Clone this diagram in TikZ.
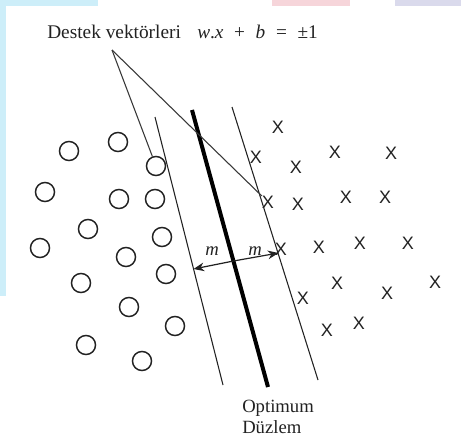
\documentclass[tikz,border=0pt]{standalone}
\usepackage{fontspec}
\setmainfont{Liberation Serif}
\newfontfamily\xfont{Liberation Sans}
\usetikzlibrary{arrows.meta}
\definecolor{bgblue}{HTML}{CDEEF9}
\definecolor{bgpink}{HTML}{F6D5DA}
\definecolor{bglav}{HTML}{DADAEC}
\definecolor{ink}{HTML}{222222}
\begin{document}
\begin{tikzpicture}[x=0.75pt,y=-0.75pt,
  circ/.style={circle, draw=ink, line width=1.1pt, minimum size=14.3pt, inner sep=0pt},
  cross/.style={font=\xfont\fontsize{13.5}{13.5}\selectfont, text=ink, inner sep=0pt},
  txt/.style={font=\fontsize{14.5}{17}\selectfont, text=ink, inner sep=0pt},
  thinline/.style={line width=0.8pt, draw=ink},
  pointer/.style={line width=0.8pt, draw=ink!90},
  thickline/.style={line width=3pt, draw=black},
  marg/.style={line width=0.9pt, draw=ink, -{Stealth[length=8pt,width=6.5pt]}}
]
\useasboundingbox (0,0) rectangle (461,439);
\fill[white] (0,0) rectangle (461,439);
% background artefacts
\fill[bgblue] (0,0) rectangle (98,6);
\fill[bgblue] (0,0) rectangle (6,296);
\fill[bgpink] (272,0) rectangle (350,6);
\fill[bglav] (395,0) rectangle (461,6);

% title
\node[txt, anchor=base west] (lbl) at (47,38) {Destek vektörleri};
\node[txt, anchor=base west] (eq) at (197,38) {\itshape w\upshape.\itshape x\upshape\hspace{0.55em}+\hspace{0.55em}\itshape b\upshape\hspace{0.55em}=\hspace{0.55em}±1};
\coordinate (apex) at (112,50);

% circles
\foreach \n/\x/\y in {1/69/151, 2/118/142, 3/156/166, 4/45/192, 5/119/199, 6/155/199,
  7/88/229, 8/162/237, 9/40/248, 10/126/257, 11/166/274, 12/81/283, 13/129/307,
  14/175/326, 15/86/345, 16/142/361}
  \node[circ] (c\n) at (\x,\y) {};

% crosses
\foreach \n/\x/\y in {1/278/127, 2/256/157, 3/335/152, 4/391/153, 5/296/167, 6/268/202,
  7/298/204, 8/346/197, 9/385/197, 10/281/249, 11/319/247, 12/360/243, 13/408/243,
  14/337/283, 15/435/282, 16/303/298, 17/387/293, 18/327/330, 19/359/323}
  \node[cross] (x\n) at (\x,\y) {X};

% hyperplanes
\coordinate (lt) at (155,117);
\coordinate (lb) at (223,385);
\coordinate (mt) at (192,110);
\coordinate (mb) at (268,387);
\coordinate (rt) at (232,107);
\coordinate (rb) at (318,380);
\draw[thinline] (lt) -- (lb);
\draw[thickline] (mt) -- (mb);
\draw[thinline] (rt) -- (rb);

% pointers
\draw[pointer] (apex) -- (c3);
\draw[pointer] (apex) -- (x6);

% margins
\coordinate (mid) at (233.5,261);
\coordinate (al) at (193.5,269);
\coordinate (ar) at (278.5,253);
\draw[marg] (mid) -- (al);
\draw[marg] (mid) -- (ar);
\node[txt, font=\fontsize{14}{16}\selectfont\itshape] (m1) at (212,251) {m};
\node[txt, font=\fontsize{14}{16}\selectfont\itshape] (m2) at (255,251) {m};

% bottom label
\node[txt, font=\fontsize{14}{16}\selectfont, anchor=base west] (opt1) at (242,412) {Optimum};
\node[txt, font=\fontsize{14}{16}\selectfont, anchor=base west] (opt2) at (242,433) {Düzlem};
\end{tikzpicture}
\end{document}
